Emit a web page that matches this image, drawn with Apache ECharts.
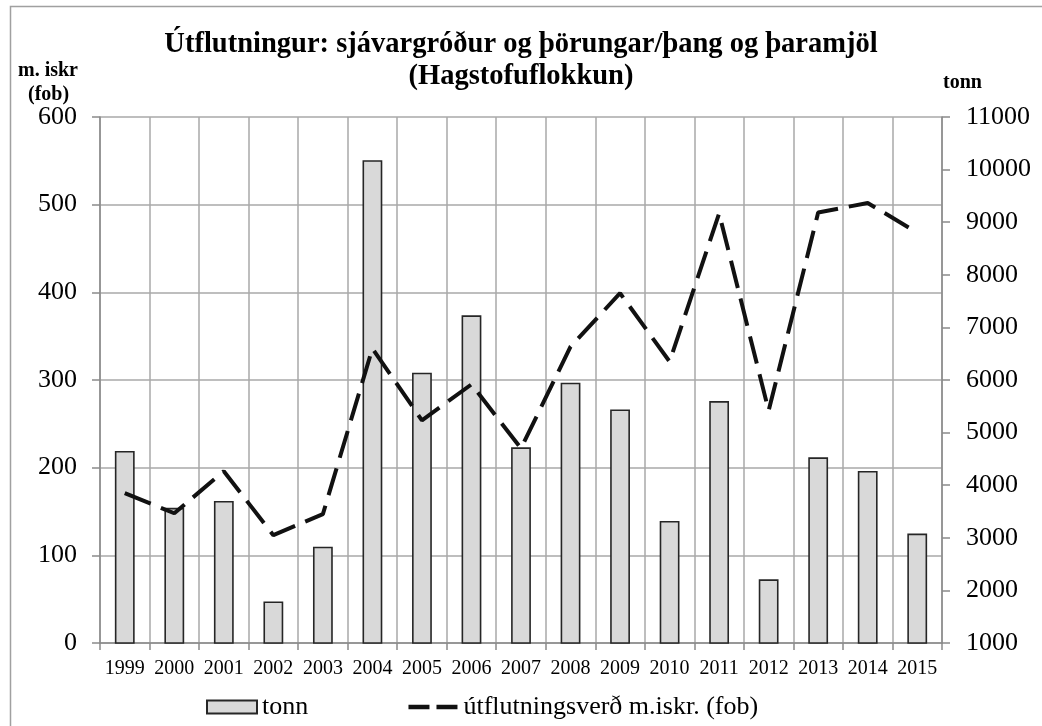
<!DOCTYPE html>
<html><head><meta charset="utf-8">
<script src="https://cdn.jsdelivr.net/npm/echarts@6/dist/echarts.min.js"></script>
<style>html,body{margin:0;padding:0;background:#fff}#c{width:1042px;height:726px}</style>
</head><body><div id="c"></div>
<script>
const years = ['1999','2000','2001','2002','2003','2004','2005','2006','2007','2008','2009','2010','2011','2012','2013','2014','2015'];
const tonn = [4650, 3570, 3700, 1790, 2830, 10180, 6140, 7230, 4720, 5950, 5440, 3320, 5600, 2210, 4530, 4270, 3080];
const verd = [171, 148, 196, 123, 147, 336, 254, 295, 222, 338, 399, 321, 490, 265, 491, 502, 468];
const titleLines = ['Útflutningur: sjávargróður og þörungar/þang og þaramjöl', '(Hagstofuflokkun)'];
const leftAxisTitle = ['m. iskr', '(fob)'];
const rightAxisTitle = 'tonn';
const seriesNames = ['tonn', 'útflutningsverð m.iskr. (fob)'];

const FONT = '"Liberation Serif", "Times New Roman", serif';
const chart = echarts.init(document.getElementById('c'), null, {renderer: 'canvas'});
chart.setOption({
  animation: false,
  backgroundColor: '#fff',
  textStyle: {fontFamily: FONT},
  graphic: [
    {type: 'rect', shape: {x: 10.5, y: 6.5, width: 1100, height: 800}, style: {fill: 'none', stroke: '#a0a0a0', lineWidth: 1.5}, silent: true, z: -10},
    {type: 'text', x: 521, y: 29, style: {text: titleLines.join('\n'), font: 'bold 28.5px ' + FONT, fill: '#000', align: 'center', verticalAlign: 'top', lineHeight: 32}},
    {type: 'text', left: 18, top: 61, style: {text: leftAxisTitle[0], font: 'bold 20px ' + FONT, fill: '#000'}},
    {type: 'text', left: 28, top: 85, style: {text: leftAxisTitle[1], font: 'bold 20px ' + FONT, fill: '#000'}},
    {type: 'text', left: 943, top: 73, style: {text: rightAxisTitle, font: 'bold 20px ' + FONT, fill: '#000'}}
  ],
  legend: {
    left: 206, bottom: 6, padding: 0,
    itemGap: 98, itemWidth: 50, itemHeight: 13,
    textStyle: {fontFamily: FONT, fontSize: 26, color: '#000'},
    data: [
      {name: seriesNames[0], icon: 'rect'},
      {name: seriesNames[1], itemStyle: {opacity: 0}, lineStyle: {color: '#111', width: 4.5, type: [21, 7]}}
    ]
  },
  grid: {left: 100, right: 100, top: 117, bottom: 83, containLabel: false},
  xAxis: {
    type: 'category', data: years, boundaryGap: true,
    axisLine: {lineStyle: {color: '#8a8a8a', width: 1.5}},
    axisTick: {show: true, length: 7, lineStyle: {color: '#8a8a8a', width: 1.5}},
    axisLabel: {color: '#000', fontFamily: FONT, fontSize: 20, margin: 16, interval: 0},
    splitLine: {show: true, interval: 0, lineStyle: {color: '#a8a8a8', width: 1.5}}
  },
  yAxis: [
    {
      type: 'value', min: 0, max: 600, interval: 100, position: 'left',
      axisLine: {show: true, lineStyle: {color: '#8a8a8a', width: 1.5}},
      axisTick: {show: true, length: 8, lineStyle: {color: '#8a8a8a', width: 1.5}},
      axisLabel: {color: '#000', fontFamily: FONT, fontSize: 26, margin: 23},
      splitLine: {show: true, lineStyle: {color: '#a8a8a8', width: 1.5}}
    },
    {
      type: 'value', min: 1000, max: 11000, interval: 1000, position: 'right',
      axisLine: {show: true, lineStyle: {color: '#8a8a8a', width: 1.5}},
      axisTick: {show: true, length: 8, lineStyle: {color: '#8a8a8a', width: 1.5}},
      axisLabel: {color: '#000', fontFamily: FONT, fontSize: 26, margin: 24, formatter: v => String(v)},
      splitLine: {show: false}
    }
  ],
  series: [
    {
      name: seriesNames[0], type: 'bar', yAxisIndex: 1, data: tonn,
      barWidth: '40%', clip: true,
      itemStyle: {color: '#d9d9d9', borderColor: '#262626', borderWidth: 1.6},
      z: 2
    },
    {
      name: seriesNames[1], type: 'line', yAxisIndex: 0, data: verd,
      symbol: 'none', showSymbol: false,
      lineStyle: {color: '#111', width: 4, type: [28, 11], cap: 'butt'},
      itemStyle: {color: '#111'},
      z: 3
    }
  ]
});
</script></body></html>
